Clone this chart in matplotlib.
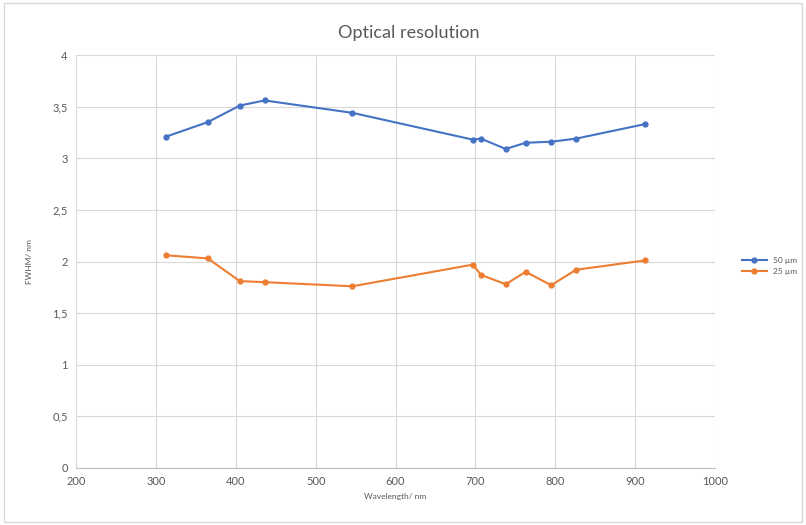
import matplotlib
matplotlib.use("Agg")
import matplotlib.pyplot as plt
from matplotlib.ticker import FuncFormatter

plt.rcParams['font.family'] = ['Lato', 'DejaVu Sans']

wavelength = [313, 365, 405, 436, 546, 697, 707, 738, 763, 795, 826, 912]
fwhm_50 = [3.21, 3.35, 3.51, 3.56, 3.44, 3.18, 3.19, 3.09, 3.15, 3.16, 3.19, 3.33]
fwhm_25 = [2.06, 2.03, 1.81, 1.80, 1.76, 1.97, 1.87, 1.78, 1.90, 1.77, 1.92, 2.01]
labels = ["50 µm", "25 µm"]

fig = plt.figure(figsize=(8.06, 5.25), dpi=100)
ax = fig.add_axes([76 / 806, 1 - 468 / 525, (715 - 76) / 806, (468 - 55) / 525])

ax.plot(wavelength, fwhm_50, color="#4472C4", lw=1.5, marker="o", ms=3.5, label=labels[0])
ax.plot(wavelength, fwhm_25, color="#ED7D31", lw=1.5, marker="o", ms=3.5, label=labels[1])

ax.set_xlim(200, 1000)
ax.set_ylim(0, 4)
ax.set_xticks(range(200, 1001, 100))
ax.set_yticks([0, 0.5, 1, 1.5, 2, 2.5, 3, 3.5, 4])
ax.yaxis.set_major_formatter(FuncFormatter(lambda v, p: f"{v:g}".replace(".", ",")))
ax.grid(True, color="#D9D9D9", lw=0.8)
ax.set_axisbelow(True)
for s in ["top", "right", "left"]:
    ax.spines[s].set_visible(False)
ax.spines["bottom"].set_color("#BFBFBF")
ax.tick_params(length=0, labelsize=8, colors="#595959", pad=6)

ax.set_title("Optical resolution", fontsize=13, color="#595959", pad=12, x=0.52)
ax.set_xlabel("Wavelength/ nm", fontsize=6, color="#595959")
ax.set_ylabel("FWHM/ nm", fontsize=6, color="#595959", labelpad=14)

ax.legend(loc="center left", bbox_to_anchor=(1.03, 0.49), frameon=False, fontsize=6,
          labelcolor="#595959", handlelength=3)

fig.patches.append(plt.Rectangle((0.005, 0.005), 0.99, 0.99, transform=fig.transFigure,
                                 fill=False, edgecolor="#D9D9D9", lw=1))

fig.savefig("out.png", dpi=100)
